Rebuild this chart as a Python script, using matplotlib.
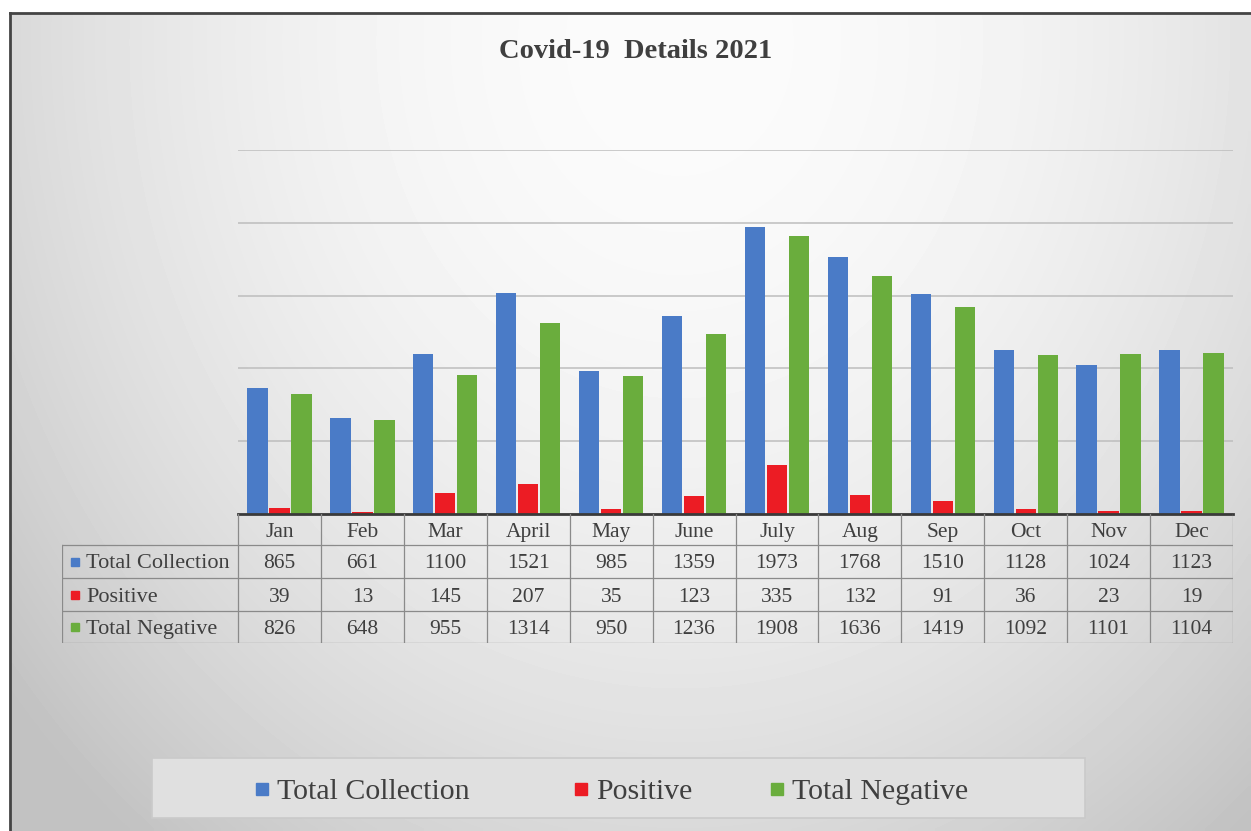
import numpy as np
import matplotlib
matplotlib.use('Agg')
import matplotlib.pyplot as plt
import matplotlib.patches as mpatches

# data
months = ['Jan', 'Feb', 'Mar', 'April', 'May', 'June', 'July', 'Aug', 'Sep', 'Oct', 'Nov', 'Dec']
series_names = ['Total Collection', 'Positive', 'Total Negative']
total_collection = [865, 661, 1100, 1521, 985, 1359, 1973, 1768, 1510, 1128, 1024, 1123]
positive = [39, 13, 145, 207, 35, 123, 335, 132, 91, 36, 23, 19]
total_negative = [826, 648, 955, 1314, 950, 1236, 1908, 1636, 1419, 1092, 1101, 1104]
y_ticks = [0, 500, 1000, 1500, 2000, 2500]

colors = ['#4a7bc7', '#ec1c24', '#6aad3d']
text_color = '#3f3f3f'
plt.rcParams['font.family'] = ['Liberation Serif', 'DejaVu Serif']

W, H = 1251, 831
fig = plt.figure(figsize=(W / 100, H / 100), dpi=100, facecolor='white')

# background with soft gradient, pixel coordinates
bg = fig.add_axes([0, 0, 1, 1])
bg.set_xlim(0, W)
bg.set_ylim(H, 0)
bg.axis('off')
gx, gy = np.meshgrid(np.linspace(10, W, 250), np.linspace(13, H, 170))
dist2 = (gx - 680) ** 2 + ((gy - 40) * 0.85) ** 2
shade = np.clip(251 - 7.5e-5 * dist2, 194, 251) / 255.0
bg.imshow(shade, cmap='gray', vmin=0, vmax=1, extent=[10, W, H, 13],
          aspect='auto', interpolation='bilinear')
# top and left border
bg.plot([10, W], [13, 13], color='#444444', lw=2)
bg.plot([10, 10], [13, H], color='#444444', lw=2)

# title
fig.text(636 / W, 1 - 49 / H, 'Covid-19  Details 2021', ha='center', va='center_baseline',
         fontsize=20.5, fontweight='bold', color=text_color)

# bar chart
ax = fig.add_axes([238 / W, 1 - 514 / H, 995 / W, 364 / H])
ax.patch.set_alpha(0)
x = np.arange(len(months))
width = 0.245
step = 0.265
for k, vals in enumerate([total_collection, positive, total_negative]):
    ax.bar(x + (k - 1) * step, vals, width, color=colors[k], zorder=3)
ax.set_xlim(-0.5, len(months) - 0.5)
ax.set_ylim(y_ticks[0], y_ticks[-1])
ax.set_yticks(y_ticks)
ax.yaxis.grid(True, color='#bdbdbd', lw=1.1)
ax.tick_params(length=0, labelleft=False, labelbottom=False)
for s in ['top', 'left', 'right']:
    ax.spines[s].set_visible(False)
ax.spines['bottom'].set_color('#3a3a3a')
ax.spines['bottom'].set_linewidth(2)
ax.spines['bottom'].set_zorder(4)

# data table below the chart
tab = fig.add_axes([62 / W, 1 - 643 / H, (1233 - 62) / W, 129 / H])
tab.patch.set_alpha(0)
tab.axis('off')
px = len(months) / 995.0          # category units per pixel
lab_w = 176 * px
left = -0.5 - lab_w
tab.set_xlim(left, len(months) - 0.5)
tab.set_ylim(129, 0)
row_edges = [0, 31, 64, 97, 129]
line_kw = dict(color='#8a8a8a', lw=0.9)

for yy in row_edges[1:]:
    tab.plot([left, len(months) - 0.5], [yy, yy], **line_kw)
for xx in np.arange(-0.5, len(months), 1.0):
    tab.plot([xx, xx], [0, 129], **line_kw)
tab.plot([left, left], [31, 129], **line_kw)

for i, m in enumerate(months):
    tab.text(i, 16, m, ha='center', va='center_baseline', fontsize=15.5, color=text_color)

rows = [total_collection, positive, total_negative]
for r, vals in enumerate(rows):
    yc = (row_edges[r + 1] + row_edges[r + 2]) / 2
    tab.plot(left + 12.5 * px, yc, marker='s', markersize=5.5, color=colors[r], ls='none')
    tab.text(left + 24 * px, yc, series_names[r], ha='left', va='center_baseline',
             fontsize=16, color=text_color)
    for i, v in enumerate(vals):
        tab.text(i, yc, str(v), ha='center', va='center_baseline', fontsize=15.5,
                 color=text_color)

# legend box at the bottom
bg.add_patch(mpatches.Rectangle((152, 758), 933, 60, facecolor='#e0e0e0',
                                edgecolor='#cacaca', lw=1.2, zorder=2))
legend_marker_x = [262, 581, 777]
for k, name in enumerate(series_names):
    bg.plot(legend_marker_x[k], 789, marker='s', markersize=8, color=colors[k],
            ls='none', zorder=3)
    bg.text(legend_marker_x[k] + 15, 789, name, ha='left', va='center_baseline',
            fontsize=21.5, color=text_color, zorder=3)

fig.savefig('out.png', dpi=100)
